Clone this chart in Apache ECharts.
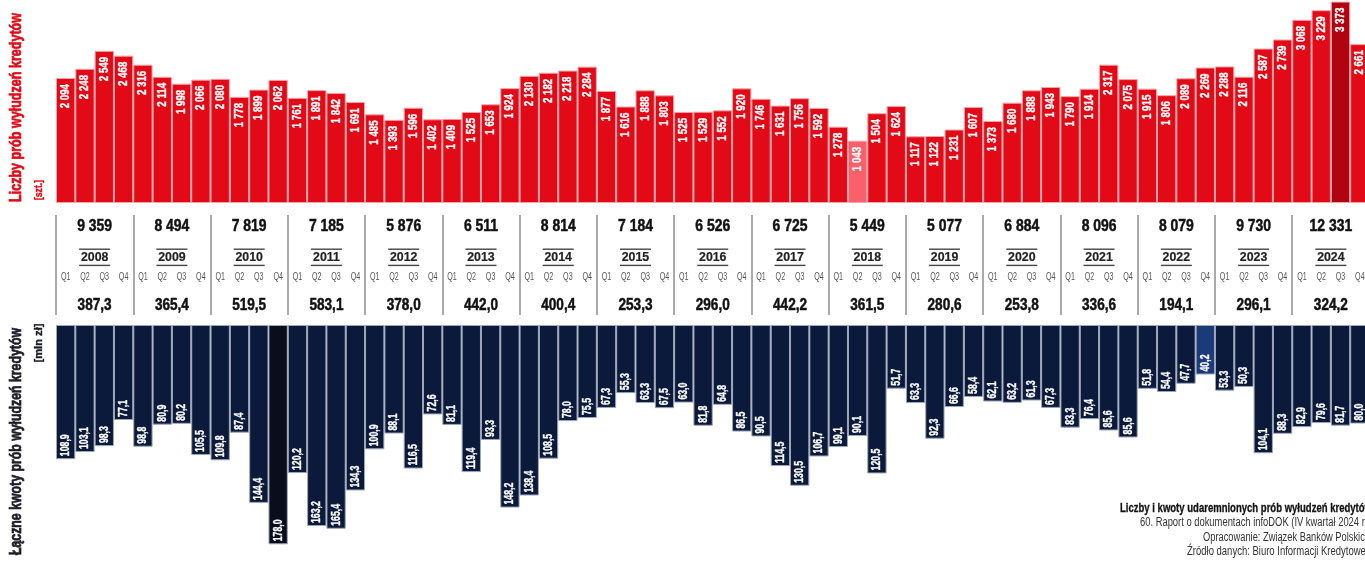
<!DOCTYPE html>
<html>
<head>
<meta charset="utf-8">
<style>
  html, body { margin: 0; padding: 0; background: #ffffff; overflow: hidden; width: 1365px; height: 561px; }
  #chart { width: 1370px; height: 561px; }
</style>
<script src="https://cdn.jsdelivr.net/npm/echarts@6.0.0/dist/echarts.min.js"></script>
</head>
<body>
<div id="chart"></div>
<script>
const years = ['2008','2009','2010','2011','2012','2013','2014','2015','2016','2017','2018','2019','2020','2021','2022','2023','2024'];
const quarters = ['Q1','Q2','Q3','Q4'];

// Liczby prób wyłudzeń kredytów [szt.] – per quarter
const counts = [
  2094, 2248, 2549, 2468,
  2316, 2114, 1998, 2066,
  2080, 1778, 1899, 2062,
  1761, 1891, 1842, 1691,
  1485, 1393, 1596, 1402,
  1409, 1525, 1653, 1924,
  2130, 2182, 2218, 2284,
  1877, 1616, 1888, 1803,
  1525, 1529, 1552, 1920,
  1746, 1631, 1756, 1592,
  1278, 1043, 1504, 1624,
  1117, 1122, 1231, 1607,
  1373, 1680, 1888, 1943,
  1790, 1914, 2317, 2075,
  1915, 1806, 2089, 2269,
  2288, 2116, 2587, 2739,
  3068, 3229, 3373, 2661
];

// Łączne kwoty prób wyłudzeń kredytów [mln zł] – per quarter
const amounts = [
  108.9, 103.1, 98.3, 77.1,
  98.8, 80.9, 80.2, 105.5,
  109.8, 87.4, 144.4, 178.0,
  120.2, 163.2, 165.4, 134.3,
  100.9, 88.1, 116.5, 72.6,
  81.1, 119.4, 93.3, 148.2,
  138.4, 108.5, 78.0, 75.5,
  67.3, 55.3, 63.3, 67.5,
  63.0, 81.8, 64.8, 86.5,
  90.5, 114.5, 130.5, 106.7,
  99.1, 90.1, 120.5, 51.7,
  63.3, 92.3, 66.6, 58.4,
  62.1, 63.2, 61.3, 67.3,
  83.3, 76.4, 85.6, 91.3,
  51.8, 54.4, 47.7, 40.2,
  53.3, 50.3, 104.1, 88.3,
  82.9, 79.6, 81.7, 80.0
];
// the printed label differs from the bar height for 2021 Q4 in the source
const amountLabelOverrides = { 55: '85,6' };

const yearCountTotals = [9359, 8494, 7819, 7185, 5876, 6511, 8814, 7184, 6526, 6725, 5449, 5077, 6884, 8096, 8079, 9730, 12331];
const yearAmountTotals = [387.3, 365.4, 519.5, 583.1, 378.0, 442.0, 400.4, 253.3, 296.0, 442.2, 361.5, 280.6, 253.8, 336.6, 194.1, 296.1, 324.2];

// highlighted bars
const countHighlights = { 41: '#f8606b', 66: '#b00410' };
const amountHighlights = { 11: '#090d1c', 59: '#1b3a7a' };

const quarterCats = years.flatMap(y => quarters.map(q => y + ' ' + q));

const FONT = '"Liberation Sans", Arial, sans-serif';
const RED = '#e30a17';
const NAVY = '#0b1a3b';

const fmtCount = v => String(v).replace(/\B(?=(\d{3})+(?!\d))/g, ' ');
const fmtAmount = v => v.toFixed(1).replace('.', ',');

const mctx = document.createElement('canvas').getContext('2d');
function fitScale(text, font, target) { mctx.font = font; return target / mctx.measureText(text).width; }

const GL = 56, GR = 0.5;

function txt(x, y, text, font, fill, sx, align, rot, sw) {
  const style = { text: text, font: font, fill: fill, textAlign: align || 'center', textVerticalAlign: 'middle' };
  if (sw) { style.stroke = fill; style.lineWidth = sw; }
  return { type: 'text', x: x, y: y, rotation: rot || 0, scaleX: sx, scaleY: 1, style: style };
}

const chart = echarts.init(document.getElementById('chart'), null, { renderer: 'canvas' });

const TOP_LABEL_FONT = 'bold 12.5px ' + FONT;
const BOT_LABEL_FONT = 'bold 12.5px ' + FONT;
const TOTAL_FONT = 'bold 17px ' + FONT;
const YEAR_FONT = 'bold 13px ' + FONT;
const Q_FONT = '11.5px ' + FONT;

const titleTop = 'Liczby prób wyłudzeń kredytów';
const titleBot = 'Łączne kwoty prób wyłudzeń kredytów';
const TITLE_FONT = 'bold 16.5px ' + FONT;
const UNIT_FONT = 'bold 10.5px ' + FONT;
const footer = [
  ['Liczby i kwoty udaremnionych prób wyłudzeń kredytów', 'bold 12.5px ' + FONT, '#111', 1372, 509, 252, 0.3],
  ['60. Raport o dokumentach infoDOK (IV kwartał 2024 r.)', '12.5px ' + FONT, '#333', 1370, 523, 230, 0],
  ['Opracowanie: Związek Banków Polskich', '12.5px ' + FONT, '#333', 1370, 537.5, 167, 0],
  ['Źródło danych: Biuro Informacji Kredytowej', '12.5px ' + FONT, '#333', 1368, 551.5, 181, 0]
];

const option = {
  animation: false,
  backgroundColor: '#ffffff',
  grid: [
    { left: GL, right: GR, top: -7, height: 210 },
    { left: GL, right: GR, top: 325, bottom: 16.7 },
    { left: GL, right: GR, top: 215, height: 100 },
    { left: GL, right: GR, top: 215, height: 100 }
  ],
  xAxis: [
    { gridIndex: 0, type: 'category', data: quarterCats, show: false },
    { gridIndex: 1, type: 'category', data: quarterCats, show: false },
    {
      gridIndex: 2, type: 'category', data: years, position: 'top',
      axisLine: { show: false },
      axisTick: { show: true, inside: true, length: 100, lineStyle: { color: '#8e8e8e', width: 1.5 } },
      axisLabel: { show: false }
    },
    { gridIndex: 3, type: 'category', data: quarterCats, show: false }
  ],
  yAxis: [
    { gridIndex: 0, type: 'value', min: 0, max: 3400, show: false },
    { gridIndex: 1, type: 'value', min: 0, max: 178, inverse: true, show: false },
    { gridIndex: 2, type: 'value', min: 0, max: 100, inverse: true, show: false },
    { gridIndex: 3, type: 'value', min: 0, max: 100, inverse: true, show: false }
  ],
  series: [
    {
      type: 'bar', xAxisIndex: 0, yAxisIndex: 0, barCategoryGap: '0%',
      data: counts.map((v, i) => countHighlights[i] ? { value: v, itemStyle: { color: countHighlights[i] } } : v),
      itemStyle: { color: RED, borderColor: '#f6a3a8', borderWidth: 1 }
    },
    {
      type: 'bar', xAxisIndex: 1, yAxisIndex: 1, barCategoryGap: '0%',
      data: amounts.map((v, i) => amountHighlights[i] ? { value: v, itemStyle: { color: amountHighlights[i] } } : v),
      itemStyle: { color: NAVY, borderColor: '#9ea6b8', borderWidth: 1 }
    },
    // condensed value labels on the red bars
    {
      type: 'custom', xAxisIndex: 0, yAxisIndex: 0, z: 5,
      data: counts.map((v, i) => [i, v]),
      renderItem: (params, api) => {
        const pt = api.coord([api.value(0), api.value(1)]);
        return txt(pt[0], pt[1] + 6, fmtCount(api.value(1)), TOP_LABEL_FONT, '#fff', 0.78, 'right', Math.PI / 2, 0.35);
      }
    },
    // condensed value labels on the navy bars
    {
      type: 'custom', xAxisIndex: 1, yAxisIndex: 1, z: 5,
      data: amounts.map((v, i) => [i, v]),
      renderItem: (params, api) => {
        const i = params.dataIndex;
        const pt = api.coord([api.value(0), api.value(1)]);
        const t = amountLabelOverrides[i] || fmtAmount(api.value(1));
        return txt(pt[0], pt[1] - 3, t, BOT_LABEL_FONT, '#fff', 0.7, 'left', Math.PI / 2, 0.35);
      }
    },
    // yearly totals and year names
    {
      type: 'custom', xAxisIndex: 2, yAxisIndex: 2, z: 5,
      data: years.map((y, i) => [i, yearCountTotals[i], yearAmountTotals[i]]),
      renderItem: (params, api) => {
        const i = api.value(0);
        const cx = api.coord([i, 0])[0];
        const row = r => api.coord([i, r])[1];
        return {
          type: 'group',
          children: [
            txt(cx, row(11), fmtCount(api.value(1)), TOTAL_FONT, '#111', 0.82, 'center', 0, 0.5),
            { type: 'line', shape: { x1: cx - 15.5, y1: row(34.2), x2: cx + 15.5, y2: row(34.2) }, style: { stroke: '#444', lineWidth: 1.4 } },
            txt(cx, row(42.6), years[i], YEAR_FONT, '#222', 0.95, 'center', 0, 0.2),
            { type: 'line', shape: { x1: cx - 15.5, y1: row(50.4), x2: cx + 15.5, y2: row(50.4) }, style: { stroke: '#444', lineWidth: 1.4 } },
            txt(cx, row(90), fmtAmount(api.value(2)), TOTAL_FONT, '#111', 0.8, 'center', 0, 0.5)
          ]
        };
      }
    },
    // quarter labels
    {
      type: 'custom', xAxisIndex: 3, yAxisIndex: 3, z: 5,
      data: quarterCats.map((c, i) => [i, 62]),
      renderItem: (params, api) => {
        const pt = api.coord([api.value(0), api.value(1)]);
        return txt(pt[0], pt[1], quarters[params.dataIndex % 4], Q_FONT, '#555', 0.62);
      }
    }
  ],
  graphic: [
    txt(16, 107.5, titleTop, TITLE_FONT, RED, fitScale(titleTop, TITLE_FONT, 189), 'center', Math.PI / 2, 0.7),
    txt(39, 190, '[szt.]', UNIT_FONT, RED, fitScale('[szt.]', UNIT_FONT, 20), 'center', Math.PI / 2, 0.4),
    txt(16.5, 441.5, titleBot, TITLE_FONT, '#1c1c28', fitScale(titleBot, TITLE_FONT, 227), 'center', Math.PI / 2, 0.7),
    txt(39, 343, '[mln zł]', UNIT_FONT, '#1c1c28', fitScale('[mln zł]', UNIT_FONT, 39), 'center', Math.PI / 2, 0.4)
  ].concat(footer.map(f => txt(f[3], f[4], f[0], f[1], f[2], fitScale(f[0], f[1], f[5]), 'right', 0, f[6])))
};

chart.setOption(option);
</script>
</body>
</html>
